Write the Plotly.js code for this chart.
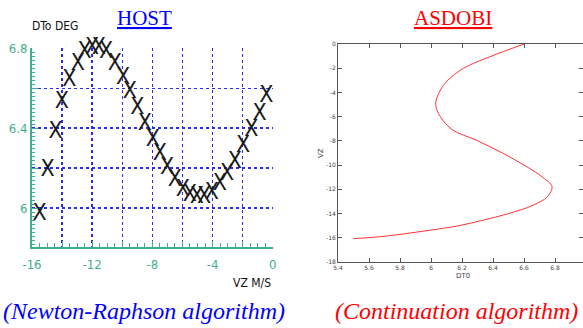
<!DOCTYPE html>
<html>
<head>
<meta charset="utf-8">
<script src="https://cdn.plot.ly/plotly-3.0.1.min.js"></script>
<style>html,body{margin:0;padding:0;background:#fff;}#chart{width:583px;height:328px;}</style>
</head>
<body>
<div id="chart"></div>
<script>
// HOST (Newton-Raphson) points: VZ (m/s) vs DT0 (deg)
const hostVZ = [-15.5, -14.96, -14.44, -14.02, -13.51, -12.96, -12.5, -12.0, -11.55, -11.08, -10.5, -9.95, -9.5, -9.0, -8.5, -7.97, -7.51, -7.02, -6.5, -5.97, -5.51, -5.05, -4.56, -4.05, -3.52, -3.03, -2.52, -1.96, -1.42, -0.87, -0.42, 0.1];
const hostDT0 = [5.97, 6.19, 6.38, 6.53, 6.64, 6.72, 6.78, 6.80, 6.80, 6.78, 6.72, 6.65, 6.58, 6.50, 6.42, 6.34, 6.27, 6.20, 6.14, 6.09, 6.065, 6.055, 6.055, 6.075, 6.12, 6.17, 6.23, 6.31, 6.39, 6.47, 6.56, 6.64];

// ASDOBI (continuation) curve
const asdVZ = [0, -1.05, -2, -3.1, -4.07, -5, -6, -7.1, -7.93, -9, -10, -11, -11.78, -12.61, -13.3, -14.04, -14.53, -15.03, -15.36, -15.72, -15.96, -16.07];
const asdDT0 = [6.6, 6.38, 6.21, 6.1, 6.05, 6.03, 6.06, 6.14, 6.29, 6.46, 6.6, 6.72, 6.78, 6.75, 6.66, 6.49, 6.34, 6.17, 6.0, 5.8, 5.63, 5.5];

// tick labels
const hostXTickVals = [-16, -14, -12, -10, -8, -6, -4, -2, 0];
const hostXTickText = ['-16', '', '-12', '', '-8', '', '-4', '', '0'];
const hostYTickVals = [6.0, 6.2, 6.4, 6.6, 6.8];
const hostYTickText = ['6', '', '6.4', '', '6.8'];
const asdXTickVals = [5.4, 5.6, 5.8, 6.0, 6.2, 6.4, 6.6, 6.8];
const asdXTickText = ['5.4', '5.6', '5.8', '6', '6.2', '6.4', '6.6', '6.8'];
const asdYTickVals = [0, -2, -4, -6, -8, -10, -12, -14, -16, -18];
const asdYTickText = ['0', '-2', '-4', '-6', '-8', '-10', '-12', '-14', '-16', '-18'];

const W = 583, H = 328;
const teal = '#3fae8e';
const gray = '#555555';
const sans = 'DejaVu Sans Condensed, Liberation Sans, Arial, sans-serif';

const traces = [
  {
    x: hostVZ, y: hostDT0, xaxis: 'x', yaxis: 'y',
    mode: 'text', text: hostVZ.map(() => 'X'),
    textposition: 'middle center',
    textfont: {family: sans, size: 23, color: '#1a1a1a'},
    cliponaxis: false, showlegend: false, hoverinfo: 'skip'
  },
  {
    x: asdDT0, y: asdVZ, xaxis: 'x2', yaxis: 'y2',
    mode: 'lines', line: {color: '#ff3333', width: 1, shape: 'spline', smoothing: 1},
    showlegend: false, hoverinfo: 'skip'
  }
];

const layout = {
  width: W, height: H,
  margin: {l: 0, r: 0, t: 0, b: 0},
  paper_bgcolor: '#ffffff', plot_bgcolor: '#ffffff',
  showlegend: false,
  xaxis: {
    domain: [32 / W, 273 / W], range: [-16, 0.02], anchor: 'y',
    tickmode: 'array', tickvals: hostXTickVals, ticktext: hostXTickText,
    showgrid: true, gridcolor: '#2a2af0', griddash: 'dot', gridwidth: 1.5,
    zeroline: false, showline: true, linecolor: teal, linewidth: 2,
    ticks: 'inside', ticklen: 6, tickcolor: teal, tickwidth: 1,
    ticklabelstandoff: 4,
    minor: {tickmode: 'linear', tick0: -16, dtick: 0.5, ticks: 'inside', ticklen: 4, tickcolor: teal, showgrid: false},
    tickfont: {family: sans, size: 13, color: teal}
  },
  yaxis: {
    domain: [(H - 247) / H, (H - 48) / H], range: [5.805, 6.802], anchor: 'x',
    tickmode: 'array', tickvals: hostYTickVals, ticktext: hostYTickText,
    showgrid: true, gridcolor: '#2a2af0', griddash: 'dot', gridwidth: 1.5,
    zeroline: false, showline: true, linecolor: teal, linewidth: 2,
    ticks: 'inside', ticklen: 6, tickcolor: teal, tickwidth: 1,
    minor: {tickmode: 'linear', tick0: 5.8, dtick: 0.02, ticks: 'inside', ticklen: 3, tickcolor: teal, showgrid: false},
    tickfont: {family: sans, size: 13, color: teal}
  },
  xaxis2: {
    domain: [338 / W, 1], range: [5.4, 6.98], anchor: 'y2',
    tickmode: 'array', tickvals: asdXTickVals, ticktext: asdXTickText,
    showgrid: false, zeroline: false, showline: true, mirror: 'ticks',
    linecolor: gray, linewidth: 1, ticks: 'inside', ticklen: 4, tickcolor: gray,
    tickfont: {family: 'DejaVu Sans', size: 6, color: '#444444'}
  },
  yaxis2: {
    domain: [(H - 262) / H, (H - 44) / H], range: [-18, 0], anchor: 'x2',
    tickmode: 'array', tickvals: asdYTickVals, ticktext: asdYTickText,
    showgrid: false, zeroline: false, showline: true, mirror: 'ticks',
    linecolor: gray, linewidth: 1, ticks: 'inside', ticklen: 4, tickcolor: gray,
    tickfont: {family: 'DejaVu Sans', size: 6, color: '#444444'}
  },
  annotations: [
    {text: '<u>HOST</u>', xref: 'paper', yref: 'paper', x: 144 / W, y: 1 - 18 / H, xanchor: 'center', yanchor: 'middle', showarrow: false,
     font: {family: 'Liberation Serif', size: 21, color: '#0000ff'}},
    {text: '<u>ASDOBI</u>', xref: 'paper', yref: 'paper', x: 453 / W, y: 1 - 18 / H, xanchor: 'center', yanchor: 'middle', showarrow: false,
     font: {family: 'Liberation Serif', size: 21, color: '#ff0000'}},
    {text: 'DTo DEG', xref: 'paper', yref: 'paper', x: 30 / W, y: 1 - 26 / H, xanchor: 'left', yanchor: 'middle', showarrow: false,
     font: {family: sans, size: 12, color: '#111111'}},
    {text: 'VZ M/S', xref: 'paper', yref: 'paper', x: 273 / W, y: 1 - 283 / H, xanchor: 'right', yanchor: 'middle', showarrow: false,
     font: {family: sans, size: 12, color: '#111111'}},
    {text: 'VZ', xref: 'paper', yref: 'paper', x: 321 / W, y: 1 - 153 / H, xanchor: 'center', yanchor: 'middle', showarrow: false, textangle: -90,
     font: {family: 'DejaVu Sans', size: 7, color: '#444444'}},
    {text: 'DT0', xref: 'paper', yref: 'paper', x: 463 / W, y: 1 - 276 / H, xanchor: 'center', yanchor: 'middle', showarrow: false,
     font: {family: 'DejaVu Sans', size: 7, color: '#444444'}},
    {text: '<i>(Newton-Raphson algorithm)</i>', xref: 'paper', yref: 'paper', x: 144 / W, y: 1 - 311 / H, xanchor: 'center', yanchor: 'middle', showarrow: false,
     font: {family: 'Liberation Serif', size: 24, color: '#0000ff'}},
    {text: '<i>(Continuation algorithm)</i>', xref: 'paper', yref: 'paper', x: 456 / W, y: 1 - 311 / H, xanchor: 'center', yanchor: 'middle', showarrow: false,
     font: {family: 'Liberation Serif', size: 24, color: '#ff0000'}}
  ]
};

Plotly.newPlot('chart', traces, layout, {displayModeBar: false, staticPlot: true});
</script>
</body>
</html>
